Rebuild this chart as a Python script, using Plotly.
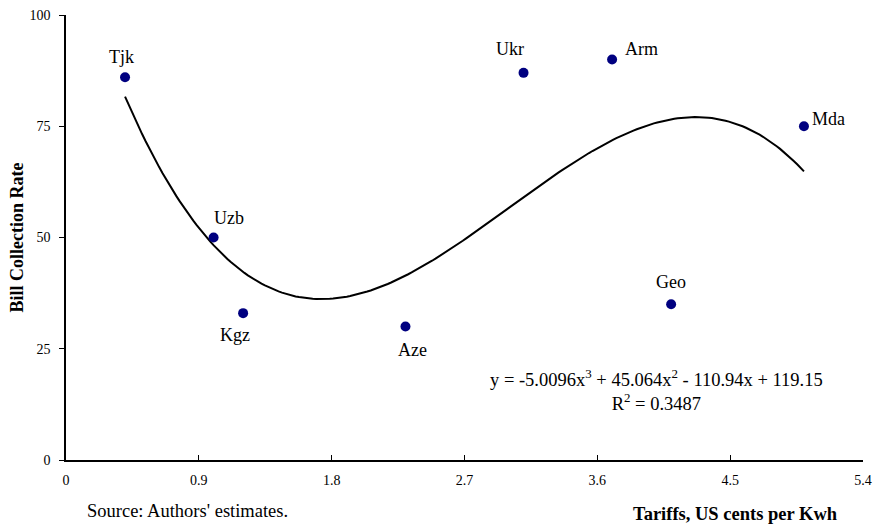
import numpy as np
import plotly.graph_objects as go

countries = ["Tjk", "Uzb", "Kgz", "Aze", "Ukr", "Arm", "Geo", "Mda"]
tariffs = [0.4, 1.0, 1.2, 2.3, 3.1, 3.7, 4.1, 5.0]
collection = [86, 50, 33, 30, 87, 90, 35, 75]
# label offsets in pixels (dx, dy)
label_dx = [-4, 15, -8, 7, -14, 29, 0, 25]
label_dy = [20, 20, -22, -23, 24, 11, 22, 7]

# cubic trendline coefficients as printed on the chart
coef = [-5.0096, 45.064, -110.94, 119.15]
r2 = 0.3487

x_tick_vals = [0, 0.9, 1.8, 2.7, 3.6, 4.5, 5.4]
x_tick_text = ["0", "0.9", "1.8", "2.7", "3.6", "4.5", "5.4"]
y_tick_vals = [0, 25, 50, 75, 100]

xs = np.linspace(min(tariffs), max(tariffs), 200)
ys = np.polyval(coef, xs)

font = "Liberation Serif, Times New Roman, serif"

fig = go.Figure()
fig.add_trace(go.Scatter(x=xs, y=ys, mode="lines",
                         line=dict(color="black", width=2), hoverinfo="skip"))
fig.add_trace(go.Scatter(x=tariffs, y=collection, mode="markers",
                         marker=dict(color="#000080", size=10), text=countries))

for c, x, y, dx, dy in zip(countries, tariffs, collection, label_dx, label_dy):
    fig.add_annotation(x=x, y=y, text=c, showarrow=False, xshift=dx, yshift=dy,
                       font=dict(family=font, size=18, color="black"))

fig.add_annotation(
    xref="x", yref="y", x=4.0, y=15.8,
    text=(f"y = {coef[0]}x<sup>3</sup> + {coef[1]}x<sup>2</sup> - {abs(coef[2])}x + {coef[3]}"
          f"<br>R<sup>2</sup> = {r2}"),
    showarrow=False, align="center",
    font=dict(family=font, size=18.5, color="black"))

fig.add_annotation(xref="paper", yref="paper", x=0.024, y=-0.114, xanchor="left", yanchor="middle",
                   text="Source: Authors' estimates.", showarrow=False,
                   font=dict(family=font, size=18.5, color="black"))
fig.add_annotation(xref="paper", yref="paper", x=0.971, y=-0.122, xanchor="right", yanchor="middle",
                   text="<b>Tariffs, US cents per Kwh</b>", showarrow=False,
                   font=dict(family=font, size=18.5, color="black"))

fig.update_layout(
    width=873, height=525,
    margin=dict(l=66, r=10, t=15, b=65),
    plot_bgcolor="white", paper_bgcolor="white",
    showlegend=False,
    font=dict(family=font, size=14, color="black"),
    xaxis=dict(range=[0, 5.4], tickvals=x_tick_vals, ticktext=x_tick_text, automargin=False,
               showgrid=False, zeroline=False, showline=True, linecolor="black", linewidth=1.5,
               ticks="inside", ticklen=5, tickcolor="black", ticklabelstandoff=6,
               tickfont=dict(size=14, family=font)),
    yaxis=dict(range=[0, 100], tickvals=y_tick_vals, automargin=False,
               showgrid=False, zeroline=False, showline=True, linecolor="black", linewidth=1.5,
               ticks="outside", ticklen=5, tickcolor="black", ticklabelstandoff=6,
               tickfont=dict(size=14, family=font),
               title=dict(text="<b>Bill Collection Rate</b>", font=dict(size=18, family=font), standoff=1)),
)

fig.write_html("out.html")
